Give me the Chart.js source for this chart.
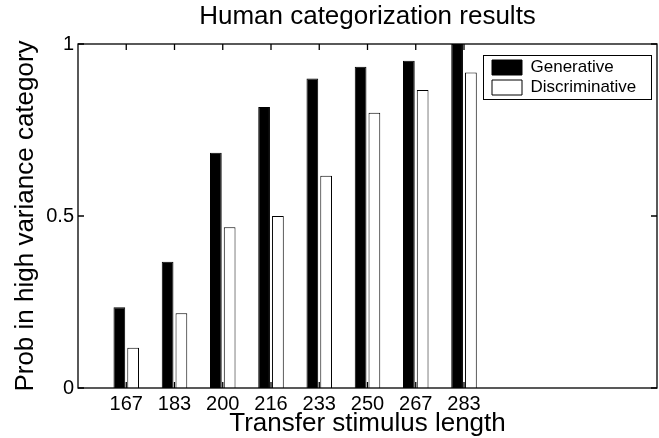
<!DOCTYPE html>
<html><head><meta charset="utf-8">
<script src="https://cdn.jsdelivr.net/npm/chart.js@4.4.0/dist/chart.umd.min.js"></script>
<style>html,body{margin:0;padding:0;background:#fff;} canvas{display:block;}</style>
</head><body>
<canvas id="c" width="659" height="438"></canvas>
<script>
const categories = ['167','183','200','216','233','250','267','283'];
const generative = [0.235, 0.367, 0.684, 0.817, 0.900, 0.934, 0.951, 1.0];
const discriminative = [0.117, 0.217, 0.467, 0.500, 0.617, 0.800, 0.866, 0.917];
const yTickValues = [0, 0.5, 1];
const yTickLabels = ['0', '0.5', '1'];
const xRange = [0, 12];

const FONT = "'Liberation Sans', Arial, Helvetica, sans-serif";
const toPoints = arr => arr.map((v, i) => ({x: i + 1, y: v}));

const framePlugin = {
  id: 'frame',
  afterLayout(chart) {
    const lg = chart.legend, ca = chart.chartArea;
    if (!lg) return;
    const bw = 168, bh = 44;
    const bx = ca.right - 6 - bw, by = ca.top + 11;
    chart.$legendBorder = {x: bx, y: by, w: bw, h: bh};
    lg.left = bx + 6; lg.top = by + 1;
    lg.width = bw - 6; lg.height = bh - 1;
    lg.right = lg.left + lg.width; lg.bottom = lg.top + lg.height;
  },
  afterDraw(chart) {
    const ctx = chart.ctx, ca = chart.chartArea;
    const xs = chart.scales.x, ys = chart.scales.y;
    ctx.save();
    ctx.strokeStyle = '#000';
    ctx.lineWidth = 1.3;
    ctx.strokeRect(ca.left, ca.top, ca.right - ca.left, ca.bottom - ca.top);
    const tl = 6;
    ctx.beginPath();
    xs.ticks.forEach(t => {
      const px = xs.getPixelForValue(t.value);
      ctx.moveTo(px, ca.bottom); ctx.lineTo(px, ca.bottom - tl);
      ctx.moveTo(px, ca.top); ctx.lineTo(px, ca.top + tl);
    });
    ys.ticks.forEach(t => {
      const py = ys.getPixelForValue(t.value);
      ctx.moveTo(ca.left, py); ctx.lineTo(ca.left + tl, py);
      ctx.moveTo(ca.right, py); ctx.lineTo(ca.right - tl, py);
    });
    ctx.stroke();
    const b = chart.$legendBorder;
    if (b) {
      ctx.lineWidth = 1;
      ctx.strokeRect(b.x + 0.5, b.y + 0.5, b.w, b.h);
    }
    ctx.restore();
  }
};

new Chart(document.getElementById('c'), {
  type: 'bar',
  data: {
    datasets: [
      {label: 'Generative', data: toPoints(generative), backgroundColor: '#000', borderColor: '#000', borderWidth: 1},
      {label: 'Discriminative', data: toPoints(discriminative), backgroundColor: '#fff', borderColor: '#000', borderWidth: 1}
    ]
  },
  options: {
    responsive: false,
    animation: false,
    categoryPercentage: 0.572,
    barPercentage: 0.85,
    layout: {padding: {left: 0, right: 2, top: 0, bottom: 0}},
    plugins: {
      legend: {
        position: 'chartArea',
        align: 'start',
        labels: {boxWidth: 30, boxHeight: 15, padding: 3, color: '#000', font: {family: FONT, size: 17}}
      },
      title: {
        display: true, text: 'Human categorization results', fullSize: false, color: '#000',
        font: {family: FONT, size: 26, weight: 'normal', lineHeight: 1},
        padding: {top: 4, bottom: 14}
      },
      tooltip: {enabled: false}
    },
    scales: {
      x: {
        type: 'linear', min: xRange[0], max: xRange[1], offset: false,
        grid: {display: false, drawTicks: false, offset: false}, border: {display: false},
        afterBuildTicks: s => { s.ticks = categories.map((c, i) => ({value: i + 1})); },
        afterFit: s => { s.height = 50; },
        ticks: {color: '#000', padding: 4, maxRotation: 0, autoSkip: false, font: {family: FONT, size: 20},
          callback: v => categories[v - 1] ?? ''},
        title: {display: true, text: 'Transfer stimulus length', color: '#000',
          font: {family: FONT, size: 26, lineHeight: 1}, padding: {top: 0, bottom: 1}}
      },
      y: {
        min: 0, max: 1,
        grid: {display: false, drawTicks: false}, border: {display: false},
        afterBuildTicks: s => { s.ticks = yTickValues.map(v => ({value: v})); },
        afterFit: s => { s.width = 78; },
        ticks: {color: '#000', padding: 4, font: {family: FONT, size: 20},
          callback: v => yTickLabels[yTickValues.indexOf(v)] ?? ''},
        title: {display: true, text: 'Prob in high variance category', color: '#000',
          font: {family: FONT, size: 26, lineHeight: 1}, padding: {top: 13, bottom: 0}}
      }
    }
  },
  plugins: [framePlugin]
});
</script>
</body></html>
